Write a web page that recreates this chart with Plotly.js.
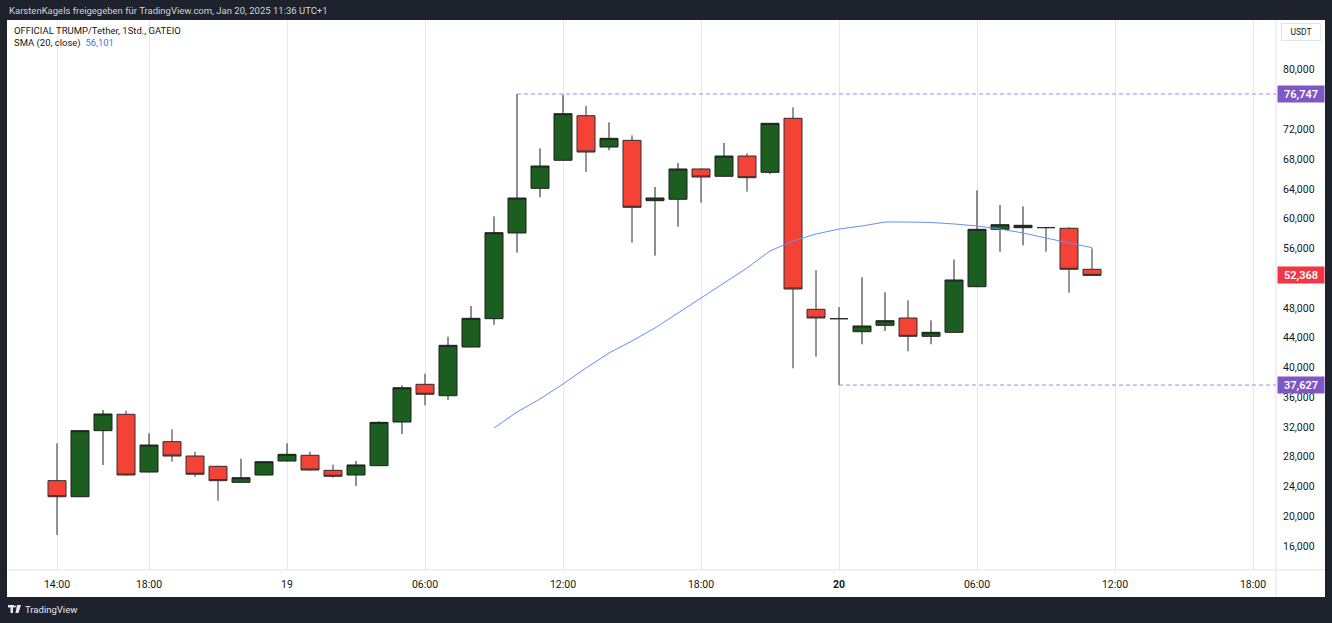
<!DOCTYPE html>
<html>
<head>
<meta charset="utf-8">
<script src="https://cdn.plot.ly/plotly-3.0.1.min.js"></script>
<style>
html,body{margin:0;padding:0;background:#1e222d;}
#chart{width:1332px;height:623px;}
</style>
</head>
<body>
<div id="chart"></div>
<script>
// ---- data ----
const times = [
  '2025-01-18 14:00','2025-01-18 15:00','2025-01-18 16:00','2025-01-18 17:00','2025-01-18 18:00',
  '2025-01-18 19:00','2025-01-18 20:00','2025-01-18 21:00','2025-01-18 22:00','2025-01-18 23:00',
  '2025-01-19 00:00','2025-01-19 01:00','2025-01-19 02:00','2025-01-19 03:00','2025-01-19 04:00',
  '2025-01-19 05:00','2025-01-19 06:00','2025-01-19 07:00','2025-01-19 08:00','2025-01-19 09:00',
  '2025-01-19 10:00','2025-01-19 11:00','2025-01-19 12:00','2025-01-19 13:00','2025-01-19 14:00',
  '2025-01-19 15:00','2025-01-19 16:00','2025-01-19 17:00','2025-01-19 18:00','2025-01-19 19:00',
  '2025-01-19 20:00','2025-01-19 21:00','2025-01-19 22:00','2025-01-19 23:00','2025-01-20 00:00',
  '2025-01-20 01:00','2025-01-20 02:00','2025-01-20 03:00','2025-01-20 04:00','2025-01-20 05:00',
  '2025-01-20 06:00','2025-01-20 07:00','2025-01-20 08:00','2025-01-20 09:00','2025-01-20 10:00',
  '2025-01-20 11:00'
];
const openV  = [24780,22620,31500,33700,25940,30020,28090,26710,24560,25540,27420,28190,26170,25540,26790,
                32660,37730,36200,42740,46550,58070,64070,67840,73830,69620,70520,62410,62600,66670,65690,
                68410,66220,73480,47810,46550,44800,45660,46640,44180,44720,50850,58560,58780,58790,58700,53190];
const highV  = [29800,31550,34280,34180,31150,31680,28670,26800,27730,27400,29800,28670,26930,27420,32760,
                37600,39160,44130,48250,60310,76747,69450,76650,75130,72940,71200,64250,67470,66750,70160,
                68780,72850,74960,53050,48120,52110,50100,49020,46330,54500,63800,61830,61650,58900,58830,56010];
const lowV   = [17480,22550,26890,25450,25880,27330,25310,22090,24500,25450,27350,26150,25180,24060,26750,
                31050,34910,35620,42700,45740,55420,62860,67800,66260,69180,56760,55020,58910,62140,65600,
                63620,65960,39880,41440,37627,43110,44890,42170,43110,44650,50800,55550,56410,55550,50040,52300];
const closeV = [22620,31500,33740,25540,29570,28090,25640,24780,25180,27330,28320,26210,25370,26890,32620,
                37270,36390,42970,46600,58110,62770,67070,74100,68950,70790,61520,62770,66670,65590,68410,
                65500,72810,50540,46640,46550,45570,46280,44180,44720,51750,58560,59180,59100,58790,53190,52368];

const smaTimes = times.slice(19);
const smaValues = [31860,34010,35760,37770,39920,41940,43550,45300,47310,49330,51350,53360,55650,56990,
                   57930,58600,59010,59540,59540,59480,59280,59010,58600,58070,57390,56720,56101];

const xTickVals = ['2025-01-18 14:00','2025-01-18 18:00','2025-01-19 00:00','2025-01-19 06:00','2025-01-19 12:00',
                   '2025-01-19 18:00','2025-01-20 00:00','2025-01-20 06:00','2025-01-20 12:00','2025-01-20 18:00'];
const xTickText = ['14:00','18:00','19','06:00','12:00','18:00','<b>20</b>','06:00','12:00','18:00'];
// 52,000 and 76,000 are hidden behind the price labels in the reference
const yTickVals = [16000,20000,24000,28000,32000,36000,40000,44000,48000,56000,60000,64000,68000,72000,80000];

const highMark = 76747, lowMark = 37627, lastClose = 52368, smaLast = '56,101';
const highMarkTime = '2025-01-19 10:00', lowMarkTime = '2025-01-20 00:00';
const xRange = ['2025-01-18 11:52:10', '2025-01-20 19:00'];
const yRange = [12773, 86693];

// ---- layout helpers (pixel -> paper) ----
const W = 1332, H = 623, ML = 8, MR = 56, MT = 20, MB = 53;
const PW = W - ML - MR, PH = H - MT - MB;
const px = x => (x - ML) / PW;
const py = y => (H - MB - y) / PH;

const FONT = 'Roboto, "Liberation Sans", sans-serif';
const purple = '#7e57c2', redLbl = '#f23645';

const traces = [
  {
    type: 'scatter', mode: 'lines', x: smaTimes, y: smaValues,
    line: {color: '#6490f7', width: 1}, hoverinfo: 'skip', showlegend: false
  },
  {
    type: 'candlestick', x: times, open: openV, high: highV, low: lowV, close: closeV,
    increasing: {line: {color: '#1f1f1f', width: 1}, fillcolor: '#1b5e20'},
    decreasing: {line: {color: '#2e2e2e', width: 1}, fillcolor: '#f44336'},
    whiskerwidth: 0, showlegend: false, hoverinfo: 'skip'
  }
];

const shapes = [
  // white chart panel
  {type:'rect', xref:'paper', yref:'paper', x0:px(7), x1:px(1325), y0:py(597), y1:py(20),
   fillcolor:'#ffffff', line:{width:0}, layer:'below'},
  // axis separators
  {type:'line', xref:'paper', yref:'paper', x0:1, x1:1, y0:py(597), y1:py(20), line:{color:'#e0e3eb', width:1}},
  {type:'line', xref:'paper', yref:'paper', x0:px(7), x1:px(1325), y0:0, y1:0, line:{color:'#e0e3eb', width:1}},
  // high / low dashed markers
  {type:'line', xref:'x', yref:'y', x0:highMarkTime, x1:xRange[1], y0:highMark, y1:highMark,
   line:{color:'#a58ae6', width:1, dash:'4px,3px'}},
  {type:'line', xref:'x', yref:'y', x0:lowMarkTime, x1:xRange[1], y0:lowMark, y1:lowMark,
   line:{color:'#a58ae6', width:1, dash:'4px,3px'}},
  // TradingView logo glyph
  {type:'rect', xref:'paper', yref:'paper', x0:px(8), x1:px(14), y0:py(607.5), y1:py(605), fillcolor:'#e6e8ee', line:{width:0}},
  {type:'rect', xref:'paper', yref:'paper', x0:px(10.5), x1:px(13), y0:py(613), y1:py(605), fillcolor:'#e6e8ee', line:{width:0}},
  {type:'circle', xref:'paper', yref:'paper', x0:px(14), x1:px(16), y0:py(607.5), y1:py(605.5), fillcolor:'#e6e8ee', line:{width:0}},
  {type:'path', xref:'paper', yref:'paper',
   path:`M ${px(17)} ${py(605)} L ${px(21)} ${py(605)} L ${px(18.5)} ${py(613)} L ${px(15.5)} ${py(613)} Z`,
   fillcolor:'#e6e8ee', line:{width:0}}
];

function priceLabel(val, text, color) {
  return {xref:'paper', yref:'y', x:1, y:val, xanchor:'left', yanchor:'middle', xshift:1,
    text:text, showarrow:false, bgcolor:color, width:44, height:14, borderpad:1,
    font:{family:FONT, size:11, color:'#ffffff', weight:600}, align:'center'};
}

const annotations = [
  {xref:'paper', yref:'paper', x:px(7), y:py(10), xanchor:'left', yanchor:'middle', showarrow:false,
   text:'KarstenKagels freigegeben für TradingView.com, Jan 20, 2025 11:36 UTC+1',
   font:{family:FONT, size:9.5, color:'#d1d4dc'}},
  {xref:'paper', yref:'paper', x:px(12), y:py(30), xanchor:'left', yanchor:'middle', showarrow:false,
   text:'OFFICIAL TRUMP/Tether, 1Std., GATEIO', font:{family:FONT, size:9.5, color:'#131722'}},
  {xref:'paper', yref:'paper', x:px(12), y:py(43), xanchor:'left', yanchor:'middle', showarrow:false,
   text:'SMA (20, close)  <span style="color:#3f73f0">' + smaLast + '</span>', font:{family:FONT, size:9.5, color:'#131722'}},
  {xref:'paper', yref:'paper', x:px(1301), y:py(32), xanchor:'center', yanchor:'middle', showarrow:false,
   text:'USDT', font:{family:FONT, size:8.5, color:'#131722'}, bordercolor:'#e0e3eb', borderwidth:1,
   borderpad:3, width:32, bgcolor:'#ffffff'},
  priceLabel(highMark, '76,747', purple),
  priceLabel(lastClose, '52,368', redLbl),
  priceLabel(lowMark, '37,627', purple),
  {xref:'paper', yref:'paper', x:px(23), y:py(609.5), xanchor:'left', yanchor:'middle', showarrow:false,
   text:'TradingView', font:{family:FONT, size:9.5, color:'#e6e8ee'}}
];

const layout = {
  width: W, height: H,
  margin: {l: ML, r: MR, t: MT, b: MB, pad: 0},
  paper_bgcolor: '#1e222d', plot_bgcolor: 'rgba(0,0,0,0)',
  showlegend: false, hovermode: false, dragmode: false,
  boxgap: 0.1, boxgroupgap: 0.13,
  xaxis: {
    type: 'date', range: xRange, tickmode: 'array', tickvals: xTickVals, ticktext: xTickText,
    showgrid: true, gridcolor: '#e6e8ec', gridwidth: 1, zeroline: false, showline: false,
    ticks: '', ticklabelstandoff: 6, rangeslider: {visible: false},
    tickfont: {family: FONT, size: 10.5, color: '#131722'}, fixedrange: true
  },
  yaxis: {
    side: 'right', range: yRange, tickmode: 'array', tickvals: yTickVals, tickformat: ',d',
    showgrid: false, zeroline: false, showline: false, ticks: '', ticklabelstandoff: 6,
    tickfont: {family: FONT, size: 10.5, color: '#131722'}, fixedrange: true
  },
  shapes: shapes,
  annotations: annotations
};

Plotly.newPlot('chart', traces, layout, {displayModeBar: false, staticPlot: true});
</script>
</body>
</html>
